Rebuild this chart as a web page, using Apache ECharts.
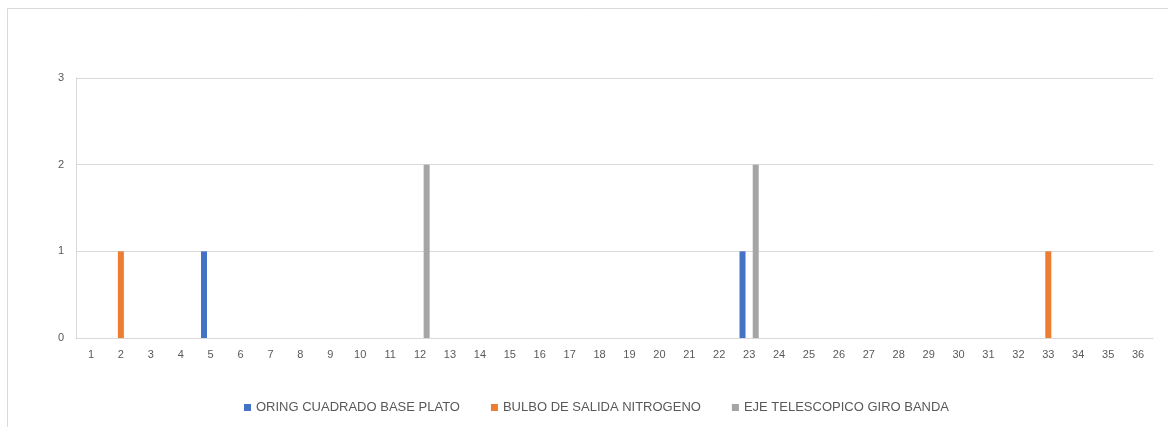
<!DOCTYPE html>
<html>
<head>
<meta charset="utf-8">
<script src="https://cdn.jsdelivr.net/npm/echarts@6/dist/echarts.min.js"></script>
<style>
  html, body { margin: 0; padding: 0; background: #ffffff; }
  #chart { width: 1168px; height: 427px; }
</style>
</head>
<body>
<div id="chart"></div>
<script>
// Categories 1..36
const categories = ['1','2','3','4','5','6','7','8','9','10','11','12','13','14','15','16','17','18',
  '19','20','21','22','23','24','25','26','27','28','29','30','31','32','33','34','35','36'];

const seriesNames = ['ORING CUADRADO BASE PLATO', 'BULBO DE SALIDA NITROGENO', 'EJE TELESCOPICO GIRO BANDA'];

const oringValues = [0,0,0,0,1,0,0,0,0,0,0,0,0,0,0,0,0,0,0,0,0,0,1,0,0,0,0,0,0,0,0,0,0,0,0,0];
const bulboValues = [0,1,0,0,0,0,0,0,0,0,0,0,0,0,0,0,0,0,0,0,0,0,0,0,0,0,0,0,0,0,0,0,1,0,0,0];
const ejeValues   = [0,0,0,0,0,0,0,0,0,0,0,2,0,0,0,0,0,0,0,0,0,0,2,0,0,0,0,0,0,0,0,0,0,0,0,0];

const yTicks = [0, 1, 2, 3];

const colors = ['#4472c4', '#ed7d31', '#a5a5a5'];
const font = '"Liberation Sans", Arial, sans-serif';

const chart = echarts.init(document.getElementById('chart'));

function barSeries(name, values, color) {
  return {
    name: name,
    type: 'bar',
    data: values,
    barWidth: 6,
    barGap: '10%',
    itemStyle: { color: color },
    emphasis: { disabled: true }
  };
}

chart.setOption({
  animation: false,
  color: colors,
  graphic: [{
    type: 'rect',
    shape: { x: 7.5, y: 8.5, width: 1200, height: 500 },
    style: { fill: 'none', stroke: '#d9d9d9', lineWidth: 1 },
    silent: true
  }],
  grid: { left: 76, right: 15, top: 78, bottom: 89, containLabel: false },
  legend: {
    bottom: 8,
    left: 239,
    itemWidth: 7,
    itemHeight: 7,
    itemGap: 31,
    icon: 'rect',
    textStyle: { color: '#595959', fontSize: 13, fontFamily: font },
    data: seriesNames
  },
  xAxis: {
    type: 'category',
    data: categories,
    axisLine: { show: true, lineStyle: { color: '#d9d9d9', width: 1 } },
    axisTick: { show: false },
    axisLabel: { color: '#595959', fontSize: 11, fontFamily: font, interval: 0, margin: 11 }
  },
  yAxis: {
    type: 'value',
    min: yTicks[0],
    max: yTicks[yTicks.length - 1],
    interval: 1,
    axisLine: { show: true, lineStyle: { color: '#d9d9d9', width: 1 } },
    axisTick: { show: false },
    splitLine: { show: true, lineStyle: { color: '#d9d9d9', width: 1 } },
    axisLabel: { color: '#595959', fontSize: 11, fontFamily: font, margin: 12 }
  },
  series: [
    barSeries(seriesNames[0], oringValues, colors[0]),
    barSeries(seriesNames[1], bulboValues, colors[1]),
    barSeries(seriesNames[2], ejeValues, colors[2])
  ]
});
</script>
</body>
</html>
